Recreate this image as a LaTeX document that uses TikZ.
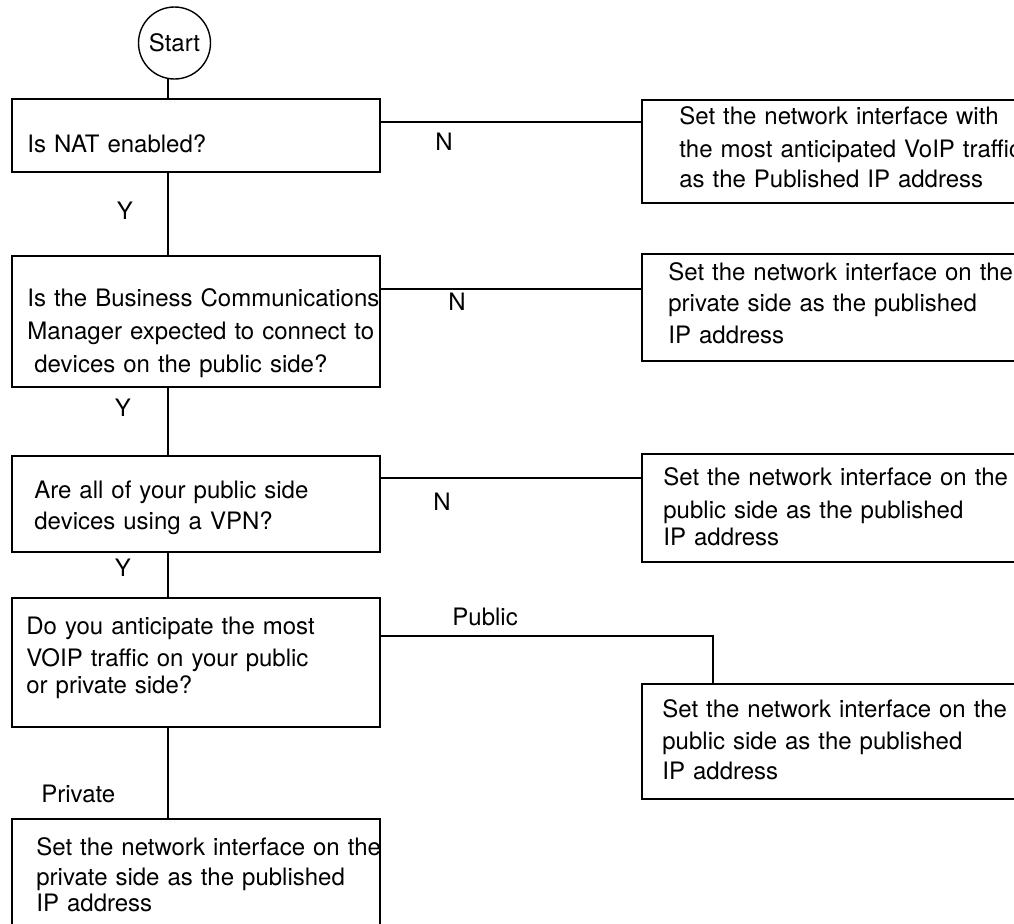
\documentclass[tikz,border=0pt]{standalone}
\usepackage{fontspec}
\setmainfont{TeX Gyre Heros}
\usetikzlibrary{fit}
\begin{document}
\begin{tikzpicture}[x=0.5pt,y=-0.5pt,
  every node/.style={font=\fontsize{12pt}{16pt}\selectfont},
  box/.style={draw, line width=0.85pt, inner sep=0pt, rectangle},
  txt/.style={anchor=base west, inner sep=0pt, align=left, text width=260pt},
  lbl/.style={inner sep=0pt},
  conn/.style={line width=0.85pt}]
\useasboundingbox (0,0) rectangle (1014,923);
\clip (0,0) rectangle (1014,923);
% start
\node[circle, draw, line width=0.7pt, minimum size=36pt, inner sep=0pt] (start) at (174.5,43) {Start};
% left column boxes
\node[box, fit={(12,99) (380,172)}] (q1) {};
\node[box, fit={(12,256) (380,387)}] (q2) {};
\node[box, fit={(12,456) (380,552)}] (q3) {};
\node[box, fit={(12,598) (380,727)}] (q4) {};
\node[box, fit={(12,819) (380,940)}] (q5) {};
% right column boxes
\node[box, fit={(642,100) (1030,203)}] (r1) {};
\node[box, fit={(642,254) (1030,361)}] (r2) {};
\node[box, fit={(642,454) (1030,562)}] (r3) {};
\node[box, fit={(642,684) (1030,799)}] (p) {};
% texts
\node[txt] (q1t) at (27,152) {Is NAT enabled?};
\node[txt] (q2t) at (27,306) {Is the Business Communications\\[0.75pt]Manager expected to connect to\\[0.5pt]\hspace*{3.5pt}devices on the public side?};
\node[txt] (q3t) at (34,498) {Are all of your public side\\[-0.5pt]devices using a VPN?};
\node[txt] (q4t) at (26,634) {Do you anticipate the most\\VOIP traffic on your public\\[-2.5pt]or private side?};
\node[txt] (q5t) at (36,855) {Set the network interface on the\\[-1pt]private side as the published\\[-3pt]IP address};
\node[txt] (r1t) at (679,124) {Set the network interface with\\[0.5pt]the most anticipated VoIP traffic\\[-1pt]as the Published IP address};
\node[txt] (r2t) at (668,280) {Set the network interface on the\\[-0.5pt]private side as the published\\IP address};
\node[txt] (r3t) at (663,485) {Set the network interface on the\\[0.5pt]public side as the published\\[-2.5pt]IP address};
\node[txt] (pt) at (662,717) {Set the network interface on the\\[0pt]public side as the published\\[-1pt]IP address};
% trunk connectors
\coordinate (tx) at (168,0);
\draw[conn] (start.-100) -- (start.-100 |- q1.north);
\draw[conn] (tx |- q1.south) -- (tx |- q2.north);
\draw[conn] (tx |- q2.south) -- (tx |- q3.north);
\draw[conn] (tx |- q3.south) -- (tx |- q4.north);
\draw[conn] (tx |- q4.south) -- (tx |- q5.north);
% N connectors
\coordinate (n1) at (380,122);
\coordinate (n2) at (380,289);
\coordinate (n3) at (380,478);
\draw[conn] (n1 -| q1.east) -- (n1 -| r1.west);
\draw[conn] (n2 -| q2.east) -- (n2 -| r2.west);
\draw[conn] (n3 -| q3.east) -- (n3 -| r3.west);
% Public connector
\coordinate (pc) at (713,636);
\draw[conn] (pc -| q4.east) -- (pc) -- (pc |- p.north);
% labels
\node[lbl] (y1) at (125,211) {Y};
\node[lbl] (y2) at (123,408) {Y};
\node[lbl] (y3) at (123,568) {Y};
\node[lbl] (nl1) at (444,142) {N};
\node[lbl] (nl2) at (457,302) {N};
\node[lbl] (nl3) at (442,502) {N};
\node[lbl, anchor=base west] (publ) at (452,625) {Public};
\node[lbl, anchor=base west] (priv) at (41,802) {Private};
\end{tikzpicture}
\end{document}
